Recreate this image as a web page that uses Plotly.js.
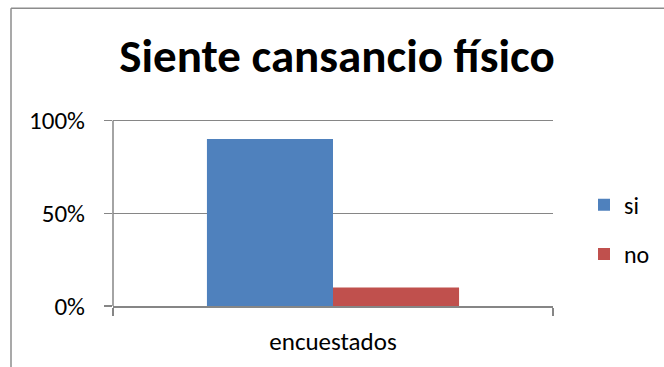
<!DOCTYPE html>
<html>
<head>
<meta charset="utf-8">
<script src="https://cdn.plot.ly/plotly-3.0.1.min.js"></script>
<style>html,body{margin:0;padding:0;background:#fff;}#chart{width:664px;height:367px;}</style>
</head>
<body>
<div id="chart"></div>
<script>
const categories = ["encuestados"];
const seriesNames = ["si", "no"];
const siValues = [0.90];
const noValues = [0.10];
const seriesColors = ["#4f81bd", "#c0504d"];
const yTickVals = [0, 0.5, 1];
const yTickText = ["0%", "50%", "100%"];

const font = "Carlito, Calibri, 'Open Sans', 'Noto Sans', sans-serif";

const traces = [
  {type: "bar", name: seriesNames[0], legendgroup: "g1", x: categories, y: siValues, marker: {color: seriesColors[0]}},
  {type: "bar", name: seriesNames[1], legendgroup: "g2", x: categories, y: noValues, marker: {color: seriesColors[1]}}
];

const yMax = 1.03;
const L = 113, R = 553, B = 306;
const T = B - 185 * yMax;
const W = R - L, H = B - T;
function px(x) { return (x - L) / W; }
function py(y) { return (B - y) / H; }

const layout = {
  width: 664, height: 367,
  margin: {l: L, r: 664 - R, t: T, b: 367 - B, pad: 0, autoexpand: false},
  paper_bgcolor: "#ffffff", plot_bgcolor: "#ffffff",
  font: {family: font, size: 25, color: "#000000"},
  title: {text: "<b>Siente cansancio físico</b>", font: {family: font, size: 47, color: "#000"},
          x: 337 / 664, xanchor: "center", y: 1 - 56 / 367, yanchor: "middle"},
  barmode: "group",
  bargap: 0.427,
  bargroupgap: 0,
  showlegend: true,
  legend: {x: px(584), y: py(183), xanchor: "left", yanchor: "top",
           font: {family: font, size: 24, color: "#000"},
           itemwidth: 30, tracegroupgap: 15, bgcolor: "rgba(0,0,0,0)"},
  xaxis: {
    type: "category", showline: true, linecolor: "#868686", linewidth: 1.5,
    ticks: "outside", tickson: "boundaries", ticklen: 8, tickcolor: "#868686", tickwidth: 1.5,
    ticklabelstandoff: 12, automargin: false,
    showgrid: false, tickfont: {family: font, size: 25, color: "#000"}, fixedrange: true
  },
  yaxis: {
    range: [0, yMax], tickvals: yTickVals, ticktext: yTickText,
    showline: false,
    ticks: "outside", ticklen: 8, tickcolor: "#868686", tickwidth: 1.5,
    ticklabelstandoff: 14, automargin: false,
    showgrid: true, gridcolor: "#868686", gridwidth: 1.5, zeroline: false,
    tickfont: {family: font, size: 25, color: "#000"}, fixedrange: true
  },
  shapes: [
    {type: "line", xref: "paper", yref: "y", x0: 0, x1: 0, y0: 0, y1: 1, line: {color: "#868686", width: 1.5}},
    {type: "line", xref: "paper", yref: "paper", x0: px(11), x1: px(11), y0: py(9), y1: py(370), line: {color: "#8c8c8c", width: 1.5}},
    {type: "line", xref: "paper", yref: "paper", x0: px(11), x1: px(670), y0: py(9), y1: py(9), line: {color: "#8c8c8c", width: 1.5}}
  ]
};

Plotly.newPlot("chart", traces, layout, {displayModeBar: false, staticPlot: true});
</script>
</body>
</html>
